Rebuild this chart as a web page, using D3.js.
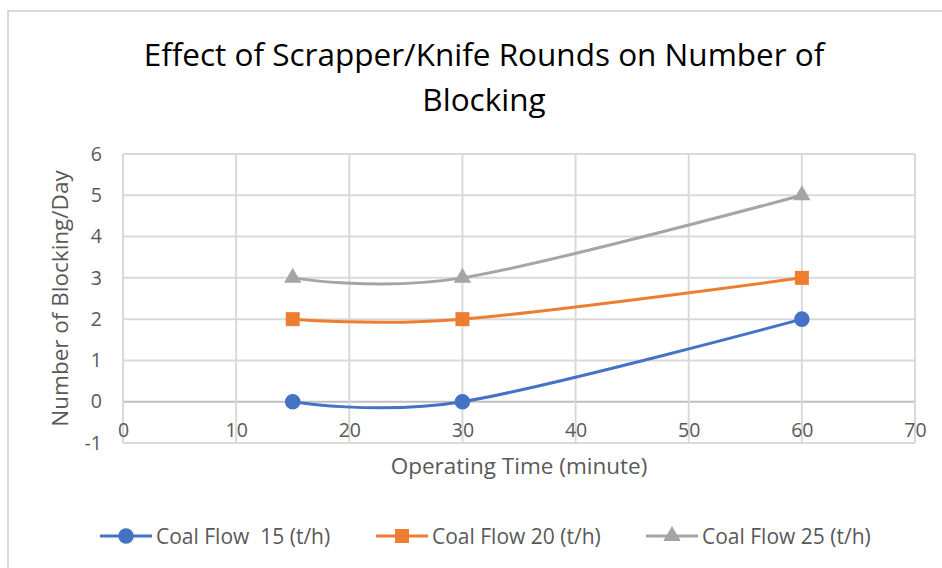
<!DOCTYPE html>
<html>
<head>
<meta charset="utf-8">
<script src="https://cdn.jsdelivr.net/npm/d3@7"></script>
<style>
  html, body { margin: 0; padding: 0; background: #fff; }
  svg { display: block; font-family: "Open Sans", Lato, sans-serif; }
  text { white-space: pre; }
</style>
</head>
<body>
<svg id="chart" width="942" height="568"></svg>
<script>
// Operating time (minutes) on the x axis
const times = [15, 30, 60];
// Blockings per day for each coal flow rate
const flow15 = [0, 0, 2];
const flow20 = [2, 2, 3];
const flow25 = [3, 3, 5];
const seriesNames = ["Coal Flow  15 (t/h)", "Coal Flow 20 (t/h)", "Coal Flow 25 (t/h)"];
const seriesColors = ["#4472c4", "#ed7d31", "#a5a5a5"];
const seriesSymbols = ["circle", "square", "triangle"];
const xTicks = [0, 10, 20, 30, 40, 50, 60, 70];
const yTicks = [-1, 0, 1, 2, 3, 4, 5, 6];

const series = [flow15, flow20, flow25].map((vals, i) => ({
  name: seriesNames[i], color: seriesColors[i], symbol: seriesSymbols[i],
  points: times.map((t, j) => ({ x: t, y: vals[j] }))
}));

const FONT = "'Open Sans', Lato, sans-serif";
const svg = d3.select("#chart");
const plot = { left: 123, right: 915, top: 154, bottom: 443 };

const x = d3.scaleLinear().domain([0, 70]).range([plot.left, plot.right]);
const y = d3.scaleLinear().domain([-1, 6]).range([plot.bottom, plot.top]);

// Chart frame
svg.append("rect")
  .attr("x", 8).attr("y", 11).attr("width", 960).attr("height", 600)
  .attr("fill", "#fff").attr("stroke", "#d9d9d9").attr("stroke-width", 2);

// Title
const title = svg.append("text")
  .attr("text-anchor", "middle").attr("fill", "#000")
  .style("font-size", "31.5px");
title.append("tspan").attr("x", 484).attr("y", 66).text("Effect of Scrapper/Knife Rounds on Number of");
title.append("tspan").attr("x", 484).attr("y", 111).text("Blocking");

// Gridlines
const grid = svg.append("g");
grid.selectAll("line.h").data(yTicks).join("line")
  .attr("x1", plot.left).attr("x2", plot.right)
  .attr("y1", d => y(d)).attr("y2", d => y(d))
  .attr("stroke", d => d === 0 ? "#bfbfbf" : "#d9d9d9").attr("stroke-width", 2);
grid.selectAll("line.v").data(xTicks).join("line")
  .attr("y1", plot.top).attr("y2", plot.bottom)
  .attr("x1", d => x(d)).attr("x2", d => x(d))
  .attr("stroke", "#d9d9d9").attr("stroke-width", 2);

const plainNumber = d => String(d);

// Y axis labels
const yAxis = d3.axisLeft(y).tickValues(yTicks).tickFormat(plainNumber).tickSize(0).tickPadding(21);
svg.append("g").attr("transform", `translate(${plot.left},0)`).call(yAxis)
  .call(g => g.select(".domain").remove())
  .selectAll("text").attr("fill", "#595959").style("font-size", "19.5px")
  .style("font-family", FONT);

// X axis labels, sitting below the zero line
const xAxis = d3.axisBottom(x).tickValues(xTicks).tickFormat(plainNumber).tickSize(0).tickPadding(21);
svg.append("g").attr("transform", `translate(0,${y(0)})`).call(xAxis)
  .call(g => g.select(".domain").remove())
  .selectAll("text").attr("fill", "#595959").style("font-size", "19.5px")
  .style("font-family", FONT);

// Axis titles
svg.append("text").attr("x", (plot.left + plot.right) / 2).attr("y", 474)
  .attr("text-anchor", "middle").attr("fill", "#595959").style("font-size", "22.5px")
  .text("Operating Time (minute)");
svg.append("text")
  .attr("transform", `translate(68,${(plot.top + plot.bottom) / 2}) rotate(-90)`)
  .attr("text-anchor", "middle").attr("fill", "#595959").style("font-size", "22.5px")
  .text("Number of Blocking/Day");

// Smoothed series lines
const line = d3.line().x(d => x(d.x)).y(d => y(d.y)).curve(d3.curveCatmullRom.alpha(0));

const symbolGen = {
  circle: d3.symbol(d3.symbolCircle, 190),
  square: d3.symbol(d3.symbolSquare, 196),
  triangle: d3.symbol(d3.symbolTriangle, 130)
};

series.forEach(s => {
  svg.append("path").datum(s.points)
    .attr("d", line).attr("fill", "none")
    .attr("stroke", s.color).attr("stroke-width", 3).attr("stroke-linecap", "round");
  svg.selectAll(null).data(s.points).join("path")
    .attr("transform", d => `translate(${x(d.x)},${y(d.y)})`)
    .attr("d", symbolGen[s.symbol]())
    .attr("fill", s.color);
});

// Legend
const legendX = [100, 376, 646];
const legend = svg.append("g");
series.forEach((s, i) => {
  const g = legend.append("g").attr("transform", `translate(${legendX[i]},536)`);
  g.append("line").attr("x1", 0).attr("x2", 52).attr("y1", 0).attr("y2", 0)
    .attr("stroke", s.color).attr("stroke-width", 3);
  g.append("path").attr("transform", "translate(26,0)")
    .attr("d", symbolGen[s.symbol]()).attr("fill", s.color);
  g.append("text").attr("x", 56).attr("y", 7.5).attr("fill", "#595959")
    .style("font-size", "21px").text(s.name);
});
</script>
</body>
</html>
